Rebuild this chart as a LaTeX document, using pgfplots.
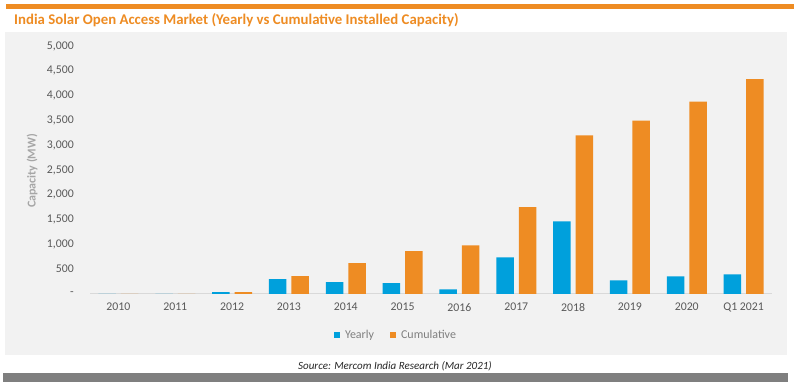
\documentclass[border=0pt]{standalone}
\usepackage{fontspec}
\setmainfont{Carlito}
\usepackage{pgfplots}
\pgfplotsset{compat=1.18}
\definecolor{barblue}{HTML}{00A0DC}
\definecolor{barorange}{HTML}{EE8C23}
\definecolor{panel}{HTML}{F2F2F2}
\definecolor{ticktext}{HTML}{595959}
\definecolor{labgray}{HTML}{A6A6A6}
\definecolor{leggray}{HTML}{7F7F7F}
\definecolor{axisgray}{HTML}{D9D9D9}
\begin{document}
\begin{tikzpicture}[x=1pt,y=1pt]
\fill[white] (0,0) rectangle (794,382);
\fill[barorange] (6,373) rectangle (794,378);
\fill[panel] (5,27) rectangle (787,350);
\fill[leggray] (3,0) rectangle (788,9);
\node[anchor=west, inner sep=0pt, text=barorange, font=\bfseries\fontsize{14.8}{17}\selectfont] at (14,362) {India Solar Open Access Market (Yearly vs Cumulative Installed Capacity)};
\node[inner sep=0pt, font=\itshape\fontsize{11}{13}\selectfont, text=black!85] at (395,16) {Source: Mercom India Research (Mar 2021)};
\node[rotate=90, inner sep=0pt, text=labgray, font=\bfseries\fontsize{12}{14}\selectfont] at (32,211) {Capacity (MW)};
\begin{axis}[
  at={(90pt,88pt)}, anchor=south west,
  scale only axis, width=682pt, height=248pt,
  ymin=0, ymax=5000,
  xmin=-0.5, xmax=11.5,
  ybar=5pt, bar width=17.5pt,
  axis y line*=left, axis x line*=bottom,
  y axis line style={draw=none},
  x axis line style={draw=axisgray, line width=1pt},
  major tick length=0pt,
  xtick={0,...,11},
  xticklabels={2010,2011,2012,2013,2014,2015,2016,2017,2018,2019,2020,Q1 2021},
  ytick={0,500,...,5000},
  yticklabels={-,500,{1,000},{1,500},{2,000},{2,500},{3,000},{3,500},{4,000},{4,500},{5,000}},
  /pgf/number format/assume math mode=true,
  ticklabel style={font=\fontsize{11.8}{14}\selectfont, text=ticktext},
  yticklabel style={anchor=east, inner sep=0pt, xshift=-16pt},
  xticklabel style={anchor=north, inner sep=0pt, yshift=-9pt},
  legend style={at={(0.4487,-0.1653)}, anchor=center, draw=none, fill=none,
    legend columns=2, font=\fontsize{12}{14}\selectfont, text=leggray,
    /tikz/every even column/.append style={column sep=14pt}},
  legend image code/.code={\fill[#1] (0pt,-3pt) rectangle (6pt,3pt);},
]
\addplot[fill=barblue, draw=none] coordinates {(0,0) (1,0) (2,40) (3,302) (4,241) (5,221) (6,95) (7,740) (8,1465) (9,276) (10,357) (11,397)};
\addplot[fill=barorange, draw=none] coordinates {(0,0) (1,0) (2,40) (3,362) (4,624) (5,865) (6,980) (7,1750) (8,3196) (9,3497) (10,3880) (11,4330)};
\legend{\hspace{3pt}Yearly, \hspace{3pt}Cumulative}
\end{axis}
\pgfresetboundingbox
\path[use as bounding box] (0,0) rectangle (794,382);
\end{tikzpicture}
\end{document}
